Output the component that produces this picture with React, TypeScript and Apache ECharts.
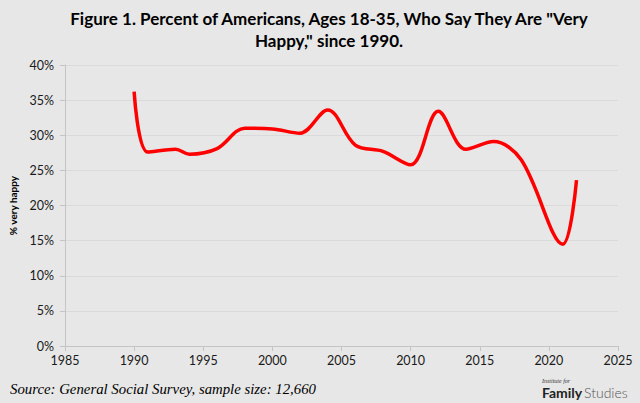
import React, { useEffect, useRef } from "react";
import * as echarts from "echarts";

const years = [1990, 1991, 1993, 1994, 1996, 1998, 2000, 2002, 2004, 2006, 2008, 2010, 2012, 2014, 2016, 2018, 2021, 2022];
const veryHappy = [36.2, 27.6, 28.0, 27.3, 28.1, 31.0, 30.9, 30.3, 33.6, 28.6, 27.7, 25.8, 33.4, 28.0, 29.1, 26.5, 14.5, 23.6];
const titleLines = ["Figure 1. Percent of Americans, Ages 18-35, Who Say They Are \"Very", "Happy,\" since 1990."];
const yAxisName = "% very happy";
const sourceText = "Source: General Social Survey, sample size: 12,660";

export default function App() {
  const ref = useRef<HTMLDivElement>(null);
  useEffect(() => {
    if (!ref.current) return;
    const chart = echarts.init(ref.current, null, { renderer: "svg" });
    chart.setOption({
      animation: false,
      backgroundColor: "#e7e7e7",
      grid: { left: 63, right: 22, top: 65, bottom: 57 },
      xAxis: {
        type: "value",
        min: 1985,
        max: 2025,
        interval: 5,
        axisLine: { show: true, lineStyle: { color: "#c4c4c4", width: 1 } },
        axisTick: { show: true, length: 5, lineStyle: { color: "#c4c4c4" } },
        splitLine: { show: false },
        axisLabel: { color: "#1a1a1a", fontFamily: "Lato", fontSize: 12.5, margin: 8, formatter: (v: number) => String(v) },
      },
      yAxis: {
        type: "value",
        min: 0,
        max: 40,
        interval: 5,
        name: yAxisName,
        nameLocation: "middle",
        nameRotate: 90,
        nameGap: 47,
        nameTextStyle: { color: "#000", fontFamily: "Lato", fontWeight: "bold", fontSize: 10 },
        axisLine: { show: true, lineStyle: { color: "#c4c4c4", width: 1 } },
        axisTick: { show: true, length: 5, lineStyle: { color: "#c4c4c4" } },
        splitLine: { show: true, lineStyle: { color: "#dadada", width: 1 } },
        axisLabel: { color: "#1a1a1a", fontFamily: "Lato", fontSize: 12.5, margin: 11, formatter: "{value}%" },
      },
      series: [
        {
          type: "line",
          data: years.map((y, i) => [y, veryHappy[i]]),
          smooth: 0.35,
          showSymbol: false,
          lineStyle: { color: "#ff0000", width: 3.5 },
        },
      ],
      graphic: [
        {
          type: "text",
          x: 329,
          y: 18,
          style: { text: titleLines[0], fill: "#000", font: "bold 17px Lato", textAlign: "center", textVerticalAlign: "middle" },
        },
        {
          type: "text",
          x: 329,
          y: 40,
          style: { text: titleLines[1], fill: "#000", font: "bold 17px Lato", textAlign: "center", textVerticalAlign: "middle" },
        },
        {
          type: "text",
          x: 10,
          y: 389,
          style: { text: sourceText, fill: "#000", font: "italic 14.8px 'Liberation Serif'", textAlign: "left", textVerticalAlign: "middle" },
        },
        {
          type: "text",
          x: 542,
          y: 381,
          style: { text: "Institute for", fill: "#333", font: "italic 6px 'Liberation Serif'", textAlign: "left", textVerticalAlign: "middle" },
        },
        {
          type: "text",
          x: 542,
          y: 392,
          style: { text: "Family", fill: "#222", font: "bold 14px Lato", textAlign: "left", textVerticalAlign: "middle" },
        },
        {
          type: "text",
          x: 584,
          y: 392,
          style: { text: "Studies", fill: "#555", font: "300 14px Lato", textAlign: "left", textVerticalAlign: "middle" },
        },
      ],
    });
    return () => chart.dispose();
  }, []);
  return <div ref={ref} style={{ width: 640, height: 403, position: "absolute", left: 0, top: 0 }} />;
}
